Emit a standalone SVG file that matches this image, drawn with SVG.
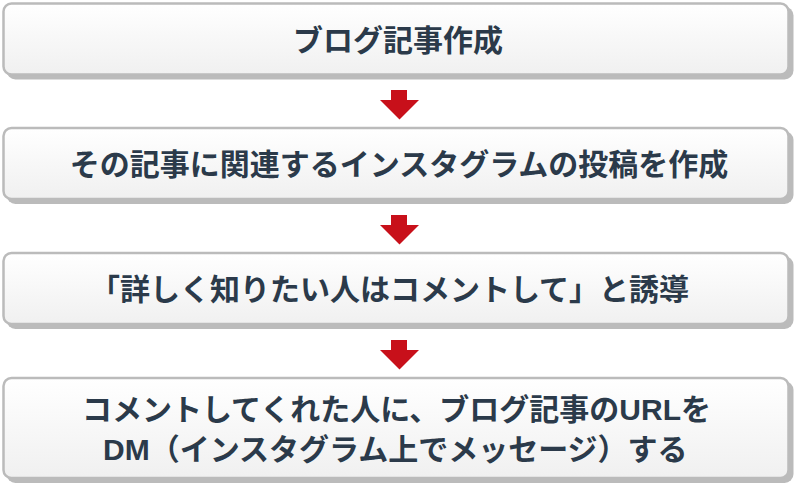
<svg xmlns="http://www.w3.org/2000/svg" xmlns:xlink="http://www.w3.org/1999/xlink" width="798" height="500" viewBox="0 0 798 500">
<defs>
<linearGradient id="boxFill" x1="0" y1="0" x2="0" y2="1">
<stop offset="0" stop-color="#ffffff"/>
<stop offset="1" stop-color="#f0f0f0"/>
</linearGradient>
<polygon id="arrowDown" points="391,0 407,0 407,10 419,10 399.5,29.5 380,10 391,10"/>
</defs>
<style>
.shadow{fill:#bbbbbb;}
.box{fill:url(#boxFill);stroke:#bbbbbb;stroke-width:2.5;}
.label{font-family:"Noto Sans CJK JP","Noto Sans",sans-serif;font-weight:bold;font-size:30px;fill:#2b3a4a;text-anchor:middle;}
.start{text-anchor:start;}
.latin{font-family:"Liberation Sans",Arial,sans-serif;}
.half{font-feature-settings:"halt" 1;}
.arrow{fill:#c8101a;}
</style>
<rect width="798" height="500" fill="#ffffff"/>
<g id="connectors">
<use xlink:href="#arrowDown" class="arrow" y="90"/>
<use xlink:href="#arrowDown" class="arrow" y="215"/>
<use xlink:href="#arrowDown" class="arrow" y="340"/>
</g>
<g id="node1">
<rect class="shadow" x="6.5" y="6.5" width="787" height="73" rx="9"/>
<rect class="box" x="3.5" y="3.5" width="785" height="71" rx="8"/>
<text class="label" x="398" y="51">ブログ記事作成</text>
</g>
<g id="node2">
<rect class="shadow" x="6.5" y="131" width="787" height="73" rx="9"/>
<rect class="box" x="3.5" y="128" width="785" height="71" rx="8"/>
<text class="label" x="399" y="175">その記事に関連するインスタグラムの投稿を作成</text>
</g>
<g id="node3">
<rect class="shadow" x="6.5" y="256" width="787" height="73" rx="9"/>
<rect class="box" x="3.5" y="253" width="785" height="71" rx="8"/>
<text class="label" x="397" y="300"><tspan class="half">「</tspan>詳しく知りたい人はコメントして」と誘導</text>
</g>
<g id="node4">
<rect class="shadow" x="6.5" y="381" width="787" height="102" rx="9"/>
<rect class="box" x="3.5" y="378" width="785" height="100" rx="8"/>
<text class="label start" x="82" y="420">コメントしてくれた人に、ブログ記事の<tspan class="latin">URL</tspan>を</text>
<text class="label start" x="103" y="460"><tspan class="latin">DM</tspan>（インスタグラム上でメッセージ）する</text>
</g>
</svg>
